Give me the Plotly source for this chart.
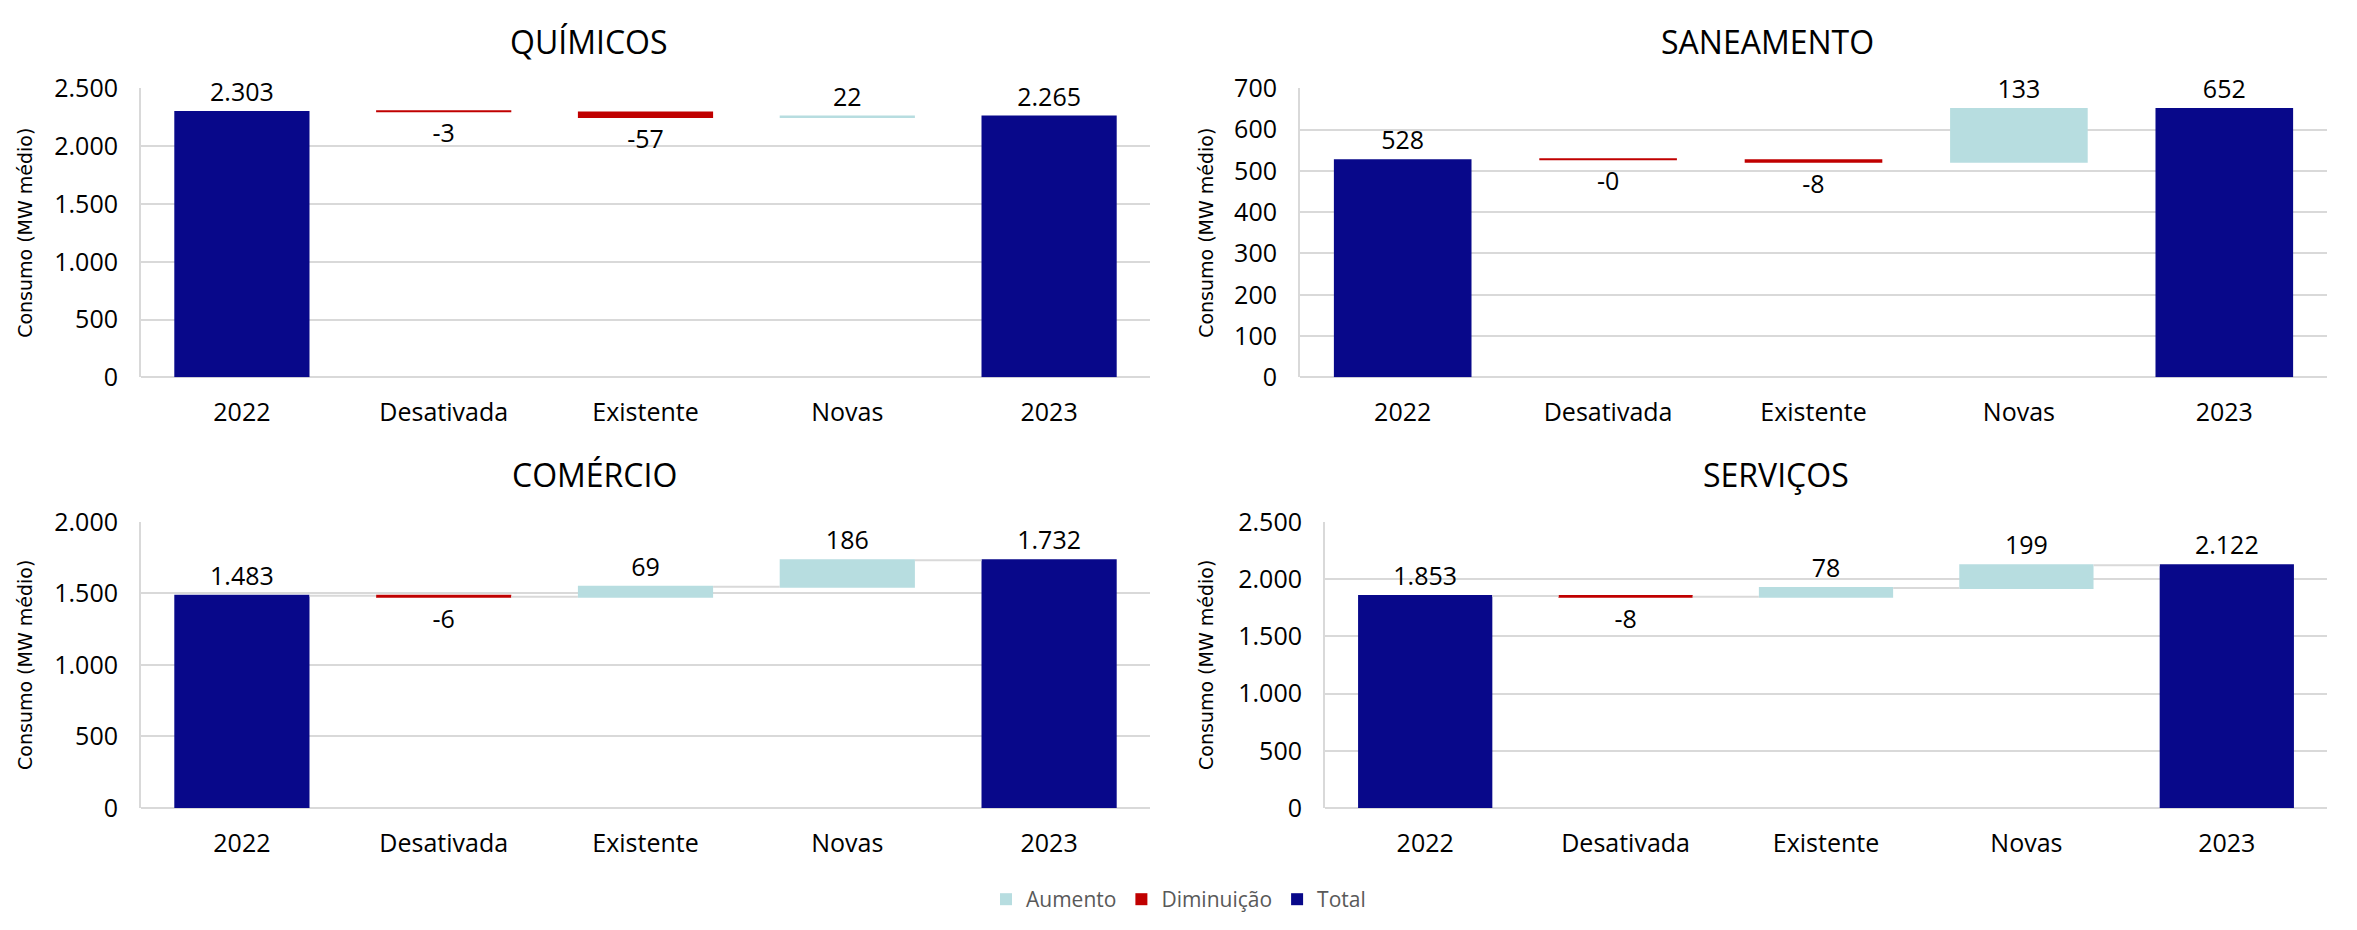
import plotly.graph_objects as go

categories = ["2022", "Desativada", "Existente", "Novas", "2023"]
measures = ["absolute", "relative", "relative", "relative", "total"]

quimicos = [2303, -3, -57, 22, 0]
saneamento = [528.4, -0.4, -8.3, 132.6, 0]
comercio = [1483, -6, 69, 186, 0]
servicos = [1853, -8, 78, 199, 0]

titles = ["QUÍMICOS", "SANEAMENTO", "COMÉRCIO", "SERVIÇOS"]
y_ranges = [2500, 700, 2000, 2500]
y_dticks = [500, 100, 500, 500]
show_connectors = [False, False, True, True]

C_UP = "#B7DDE0"
C_DOWN = "#C00000"
C_TOT = "#08088A"
GRID = "#D9D9D9"

W, H = 2357, 930

def fmt(v):
    return f"{v:,.0f}".replace(",", ".")

def labels(vals):
    out = []
    run = 0
    for i, v in enumerate(vals):
        if i == len(vals) - 1:
            out.append(fmt(run))
        else:
            run += v
            out.append(fmt(v))
    return out

# pixel layout of each panel: (x0, x1, ytop, ybottom, title_x, title_y, ytitle_x)
panels = [
    (141, 1150, 73, 373, 588, 24, 25),
    (1300, 2327, 73, 373, 1768, 24, 1206),
    (141, 1150, 523, 820, 594, 474, 25),
    (1325, 2327, 523, 820, 1776, 474, 1206),
]

fig = go.Figure()
series = [quimicos, saneamento, comercio, servicos]

annotations = []
for i, (vals, p) in enumerate(zip(series, panels)):
    n = "" if i == 0 else str(i + 1)
    fig.add_trace(go.Waterfall(
        x=categories, y=vals, measure=measures,
        text=labels(vals), textposition="outside",
        textfont=dict(size=25, color="#000000", family="Open Sans"),
        increasing=dict(marker=dict(color=C_UP)),
        decreasing=dict(marker=dict(color=C_DOWN)),
        totals=dict(marker=dict(color=C_TOT)),
        connector=dict(visible=show_connectors[i], line=dict(color=GRID, width=2)),
        cliponaxis=False, showlegend=False,
        xaxis="x" + n, yaxis="y" + n,
    ))
    x0, x1, yt, yb, tx, ty, ytx = p
    fig.layout["xaxis" + n] = dict(
        domain=[x0 / W, x1 / W], anchor="y" + n,
        showgrid=False, ticks="", showline=False,
        ticklabelstandoff=18,
        tickfont=dict(size=25, color="#000000", family="Open Sans"),
        fixedrange=True,
    )
    fig.layout["yaxis" + n] = dict(
        domain=[1 - yb / H, 1 - yt / H], anchor="x" + n,
        range=[0, y_ranges[i]], dtick=y_dticks[i], tickformat=",d",
        showgrid=True, gridcolor=GRID, gridwidth=2,
        zeroline=True, zerolinecolor=GRID, zerolinewidth=2,
        showline=True, linecolor=GRID, linewidth=2,
        ticklabelstandoff=16,
        tickfont=dict(size=25, color="#000000", family="Open Sans"),
    )
    annotations.append(dict(
        text=titles[i], x=tx / W, y=1 - ty / H, xref="paper", yref="paper",
        xanchor="center", yanchor="middle", showarrow=False,
        font=dict(size=32, color="#000000", family="Open Sans"),
    ))
    annotations.append(dict(
        text="Consumo (MW médio)", x=ytx / W, y=1 - (yt + yb) / 2 / H,
        xref="paper", yref="paper", textangle=-90,
        xanchor="center", yanchor="middle", showarrow=False,
        font=dict(size=19, color="#000000", family="DejaVu Sans"),
    ))

legend_items = [("Aumento", C_UP), ("Diminuição", C_DOWN), ("Total", C_TOT)]
for name, col in legend_items:
    fig.add_trace(go.Scatter(
        x=[None], y=[None], mode="markers", name=name,
        marker=dict(symbol="square", size=17, color=col),
        xaxis="x", yaxis="y",
    ))

fig.update_layout(
    width=W, height=H,
    margin=dict(l=0, r=0, t=0, b=0),
    paper_bgcolor="white", plot_bgcolor="white",
    separators=",.",
    waterfallgap=0.33,
    annotations=annotations,
    showlegend=True,
    legend=dict(
        orientation="h", x=0.5, xanchor="center", y=1 - 915 / H, yanchor="middle",
        font=dict(size=21, color="#595959", family="Open Sans"),
        itemsizing="constant", tracegroupgap=0,
    ),
)

fig.write_html("out.html")
